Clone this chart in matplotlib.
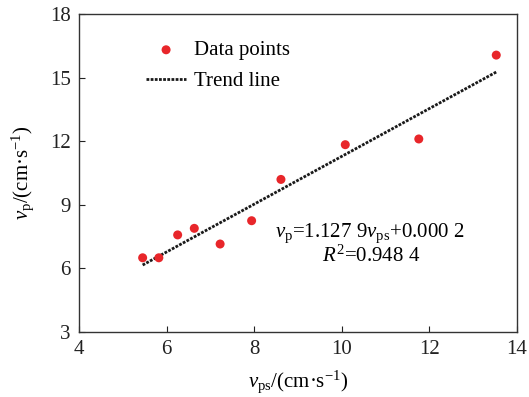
import numpy as np
import matplotlib
matplotlib.use("Agg")
import matplotlib.pyplot as plt

plt.rcParams["font.family"] = ["Liberation Serif", "DejaVu Serif"]
plt.rcParams["mathtext.fontset"] = "custom"
plt.rcParams["mathtext.rm"] = "Liberation Serif"
plt.rcParams["mathtext.it"] = "Liberation Serif:italic"
plt.rcParams["mathtext.bf"] = "Liberation Serif:bold"

# measured velocities
v_ps = [5.45, 5.82, 6.25, 6.63, 7.22, 7.94, 8.61, 10.08, 11.76, 13.53]
v_p = [6.49, 6.49, 7.57, 7.88, 7.14, 8.24, 10.19, 11.83, 12.10, 16.06]

# linear fit coefficients
slope = 1.1279
intercept = 0.0002
r_squared = 0.9484

x_ticks = [4, 6, 8, 10, 12, 14]
y_ticks = [3, 6, 9, 12, 15, 18]

fig = plt.figure(figsize=(5.29, 3.97), dpi=100)
ax = fig.add_axes([0.1497, 0.1645, 0.8273, 0.8002])

ax.scatter(v_ps, v_p, s=42, color="#e8262a", edgecolors="none", zorder=3,
           label="Data points")
xs = np.array([min(v_ps), max(v_ps)])
ax.plot(xs, slope * xs + intercept, color="#1a1a1a", linestyle=(0, (1, 0.5)),
        linewidth=2.0, label="Trend line", zorder=2)

ax.set_xlim(4, 14)
ax.set_ylim(3, 18)
ax.set_xticks(x_ticks)
ax.set_yticks(y_ticks)
ax.tick_params(direction="in", length=4, width=0.8, labelsize=15, pad=6,
               colors="#222222")
for sp in ax.spines.values():
    sp.set_linewidth(1.0)
    sp.set_color("#333333")

ax.set_xlabel(r"$v_{\mathrm{ps}}$/(cm·s$^{-1}$)", fontsize=15, labelpad=7)
ax.set_ylabel(r"$v_{\mathrm{p}}$/(cm·s$^{-1}$)", fontsize=15, labelpad=10)

ax.legend(loc="upper left", bbox_to_anchor=(0.12, 0.962), frameon=False,
          fontsize=15, handlelength=1.9, handletextpad=0.4, labelspacing=0.55,
          borderaxespad=0.3)

ax.text(10.64, 7.66, r"$v_{\mathrm{p}}$=1.127 9$v_{\mathrm{ps}}$+0.000 2",
        fontsize=15, ha="center", va="center")
ax.text(10.68, 6.55, r"$R^{2}$=0.948 4", fontsize=15, ha="center", va="center")

fig.savefig("out.png", dpi=100)
